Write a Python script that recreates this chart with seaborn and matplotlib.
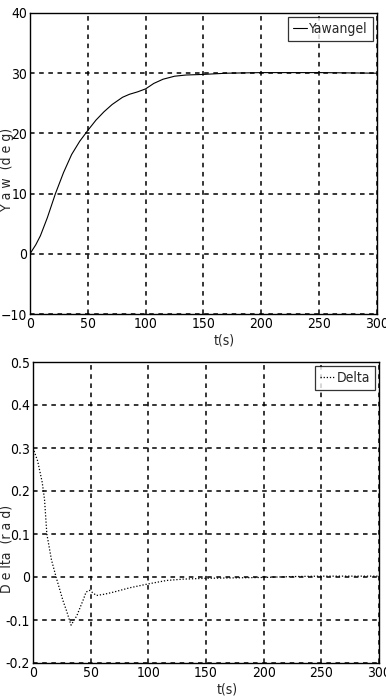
import matplotlib
matplotlib.use("Agg")
import matplotlib.pyplot as plt
import seaborn as sns
import pandas as pd

# yaw response (deg)
yaw_t = [0, 5, 9, 15, 22, 29, 36, 43, 50, 57, 64, 71, 80, 86, 93, 100,
         107, 115, 125, 135, 150, 170, 200, 250, 300]
yaw_v = [0, 1.5, 3.0, 6.0, 10.0, 13.5, 16.5, 18.7, 20.5, 22.2, 23.6, 24.8,
         26.0, 26.5, 26.9, 27.4, 28.3, 29.0, 29.5, 29.7, 29.8, 30.0, 30.1, 30.1, 30.0]

# delta response (rad)
delta_t = [0, 4, 8, 10, 12, 16, 20, 26, 29, 33, 38, 41, 44, 46, 49, 55,
           62, 70, 84, 100, 116, 130, 150, 175, 200, 225, 250, 300]
delta_v = [0.30, 0.27, 0.22, 0.18, 0.10, 0.04, 0.0, -0.055, -0.078, -0.112,
           -0.09, -0.07, -0.05, -0.035, -0.031, -0.043, -0.040, -0.035, -0.025,
           -0.016, -0.008, -0.005, -0.003, -0.002, -0.001, 0.001, 0.002, 0.002]

sns.set_style("white")
plt.rcParams['font.family'] = ['DejaVu Sans Condensed', 'Liberation Sans Narrow', 'DejaVu Sans']
plt.rcParams['font.stretch'] = 'condensed'

yaw_df = pd.DataFrame({"t": yaw_t, "v": yaw_v})
delta_df = pd.DataFrame({"t": delta_t, "v": delta_v})

fig = plt.figure(figsize=(3.86, 6.96), dpi=100)
ax1 = fig.add_axes([30 / 386, 1 - 314 / 696, 347 / 386, 301 / 696])
ax2 = fig.add_axes([33 / 386, 1 - 663 / 696, 346 / 386, 301 / 696])

sns.lineplot(data=yaw_df, x="t", y="v", ax=ax1, color="black", lw=0.8,
             label="Yawangel")
sns.lineplot(data=delta_df, x="t", y="v", ax=ax2, color="black", lw=0.9,
             linestyle=(0, (1, 1.5)), label="Delta")

for ax in (ax1, ax2):
    ax.set_xlim(0, 300)
    ax.set_xticks(range(0, 301, 50))
    ax.grid(True, color="black", linestyle=(0, (3, 3)), lw=1.1)
    ax.tick_params(direction="in", length=3, labelsize=10, colors="black", pad=2)
    for s in ax.spines.values():
        s.set_color("black")
        s.set_linewidth(1.0)
    ax.set_xlabel("t(s)", fontsize=10)
    ax.xaxis.set_label_coords(0.56, -0.065)
    leg = ax.legend(loc="upper right", fontsize=10, frameon=True, fancybox=False,
                    handlelength=1.0, handletextpad=0.2, borderpad=0.35,
                    borderaxespad=0.3)
    leg.get_frame().set_edgecolor("black")
    leg.get_frame().set_linewidth(0.9)

ax1.set_ylim(-10, 40)
ax1.set_yticks(range(-10, 41, 10))
ax1.set_ylabel("Y a w  (d e g)", fontsize=10)
ax1.yaxis.set_label_coords(-0.045, 0.48)

ax2.set_ylim(-0.2, 0.5)
ax2.set_yticks([-0.2, -0.1, 0, 0.1, 0.2, 0.3, 0.4, 0.5])
ax2.set_yticklabels(["-0.2", "-0.1", "0", "0.1", "0.2", "0.3", "0.4", "0.5"])
ax2.set_ylabel("D e lta  (r a d)", fontsize=10)
ax2.yaxis.set_label_coords(-0.055, 0.38)

fig.savefig("out.png", dpi=100)
